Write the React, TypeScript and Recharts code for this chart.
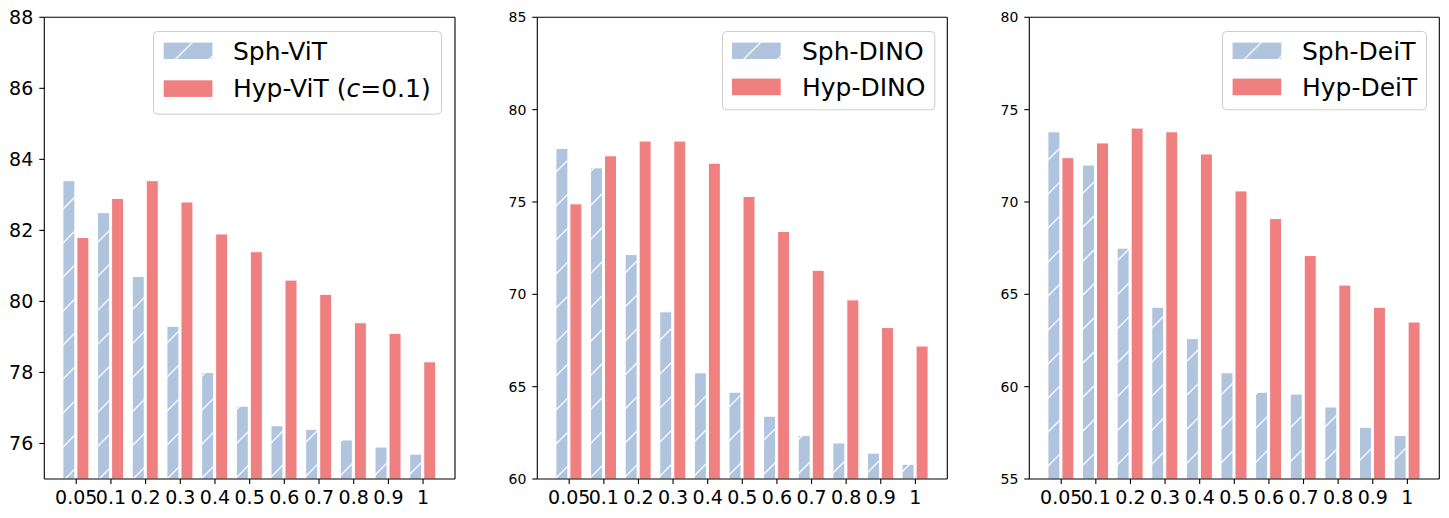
import React from 'react';
import { BarChart, Bar, XAxis, YAxis, Legend, ReferenceLine } from 'recharts';

const categories = ['0.05', '0.1', '0.2', '0.3', '0.4', '0.5', '0.6', '0.7', '0.8', '0.9', '1'];

const sphViT = [83.4, 82.5, 80.7, 79.3, 78.0, 77.05, 76.5, 76.4, 76.1, 75.9, 75.7];
const hypViT = [81.8, 82.9, 83.4, 82.8, 81.9, 81.4, 80.6, 80.2, 79.4, 79.1, 78.3];

const sphDINO = [77.9, 76.85, 72.15, 69.05, 65.75, 64.7, 63.4, 62.35, 61.95, 61.4, 60.8];
const hypDINO = [74.9, 77.5, 78.3, 78.3, 77.1, 75.3, 73.4, 71.3, 69.7, 68.2, 67.2];

const sphDeiT = [73.8, 72.0, 67.5, 64.3, 62.6, 60.75, 59.7, 59.6, 58.9, 57.8, 57.35];
const hypDeiT = [72.4, 73.2, 74.0, 73.8, 72.6, 70.6, 69.1, 67.1, 65.5, 64.3, 63.5];

const ticksViT = [76, 78, 80, 82, 84, 86, 88];
const ticksDINO = [60, 65, 70, 75, 80, 85];
const ticksDeiT = [55, 60, 65, 70, 75, 80];

const SPH = '#B0C4DE';
const HYP = '#F08080';
const FONT = '"DejaVu Sans", sans-serif';

type PanelProps = {
  id: string;
  left: number;
  width: number;
  yAxisWidth: number;
  rightMargin: number;
  sph: number[];
  hyp: number[];
  domain: [number, number];
  ticks: number[];
  yFont: number;
  sphLabel: string;
  hypLabel: React.ReactNode;
  legendLeft: number;
  legendWidth: number;
  legendHeight: number;
  patchX: number;
  row2Y: number;
  row2Base: number;
};

const HatchDefs = ({ id }: { id: string }) => (
  <defs>
    <pattern id={id} patternUnits="userSpaceOnUse" width={34} height={34}>
      <rect x={0} y={0} width={34} height={34} fill={SPH} />
      <path
        d="M-8.5,8.5 L8.5,-8.5 M0,34 L34,0 M25.5,42.5 L42.5,25.5"
        stroke="#ffffff"
        strokeWidth={1.3}
        fill="none"
      />
    </pattern>
  </defs>
);

const LegendBox = (p: PanelProps) => {
  const pid = p.id + '-leg';
  return (
    <svg width={p.legendWidth} height={p.legendHeight} style={{ display: 'block', overflow: 'visible' }}>
      <defs>
        <pattern id={pid} patternUnits="userSpaceOnUse" width={34} height={34} x={p.patchX + 6} y={0}>
          <rect x={0} y={0} width={34} height={34} fill={SPH} />
          <path
            d="M-8.5,8.5 L8.5,-8.5 M0,34 L34,0 M25.5,42.5 L42.5,25.5"
            stroke="#ffffff"
            strokeWidth={1.3}
            fill="none"
          />
        </pattern>
      </defs>
      <rect
        x={0.5}
        y={0.5}
        width={p.legendWidth - 1}
        height={p.legendHeight - 1}
        rx={4}
        ry={4}
        fill="rgba(255,255,255,0.8)"
        stroke="#cccccc"
        strokeWidth={1}
      />
      <rect x={p.patchX} y={11.6} width={48.7} height={16.4} fill={`url(#${pid})`} />
      <text x={80} y={28.8} fontSize={25} fontFamily={FONT} fill="#000">
        {p.sphLabel}
      </text>
      <rect x={p.patchX} y={p.row2Y} width={48.7} height={16.6} fill={HYP} />
      <text x={80} y={p.row2Base} fontSize={25} fontFamily={FONT} fill="#000">
        {p.hypLabel}
      </text>
    </svg>
  );
};

const Panel = (p: PanelProps) => {
  const data = categories.map((c, i) => ({ x: c, sph: p.sph[i], hyp: p.hyp[i] }));
  const hatchId = p.id + '-hatch';
  return (
    <div style={{ position: 'absolute', left: p.left, top: 0 }}>
      <BarChart
        width={p.width}
        height={518}
        data={data}
        margin={{ top: 17.3, right: p.rightMargin - 1, bottom: 0, left: 0 }}
        barSize={12}
        barGap={2}
      >
        <HatchDefs id={hatchId} />
        <XAxis
          dataKey="x"
          interval={0}
          height={39}
          padding={{ left: 14.6, right: 14.6 }}
          tick={{ fontSize: 19, fill: '#000', fontFamily: FONT }}
          tickSize={5}
          tickMargin={7}
          axisLine={{ stroke: '#000', strokeWidth: 1.1 }}
          tickLine={{ stroke: '#000', strokeWidth: 1.1 }}
        />
        <YAxis
          yAxisId="left"
          width={p.yAxisWidth}
          domain={p.domain}
          ticks={p.ticks}
          type="number"
          allowDataOverflow
          tick={{ fontSize: p.yFont, fill: '#000', fontFamily: FONT }}
          tickSize={5}
          tickMargin={6}
          axisLine={{ stroke: '#000', strokeWidth: 1.1 }}
          tickLine={{ stroke: '#000', strokeWidth: 1.1 }}
        />
        <YAxis
          yAxisId="right"
          orientation="right"
          width={1}
          domain={p.domain}
          type="number"
          allowDataOverflow
          tick={false}
          tickLine={false}
          axisLine={{ stroke: '#000', strokeWidth: 1.1 }}
        />
        <ReferenceLine
          yAxisId="left"
          y={p.domain[1]}
          stroke="#000"
          strokeWidth={1.1}
          ifOverflow="extendDomain"
        />
        <Legend
          layout="vertical"
          align="center"
          verticalAlign="middle"
          wrapperStyle={{
            position: 'absolute',
            left: p.legendLeft,
            top: 30.7,
            width: p.legendWidth,
            height: p.legendHeight,
            margin: 0,
            padding: 0,
          }}
          content={() => <LegendBox {...p} />}
        />
        <Bar
          yAxisId="left"
          dataKey="sph"
          fill={`url(#${hatchId})`}
          stroke="#ffffff"
          strokeWidth={1}
          isAnimationActive={false}
        />
        <Bar
          yAxisId="right"
          dataKey="hyp"
          fill={HYP}
          stroke="#ffffff"
          strokeWidth={1}
          isAnimationActive={false}
        />
      </BarChart>
    </div>
  );
};

export default function App() {
  return (
    <div
      style={{
        position: 'absolute',
        left: 0,
        top: 0,
        width: 1449,
        height: 518,
        background: '#ffffff',
        fontFamily: FONT,
        overflow: 'hidden',
      }}
    >
      <Panel
        id="vit"
        left={0}
        width={480}
        yAxisWidth={44.3}
        rightMargin={25}
        sph={sphViT}
        hyp={hypViT}
        domain={[75, 88]}
        ticks={ticksViT}
        yFont={19}
        sphLabel="Sph-ViT"
        hypLabel={
          <>
            Hyp-ViT (<tspan fontStyle="italic">c</tspan>=0.1)
          </>
        }
        legendLeft={153.3}
        legendWidth={289}
        legendHeight={83.6}
        patchX={10.7}
        row2Y={49.3}
        row2Base={66}
      />
      <Panel
        id="dino"
        left={490}
        width={480}
        yAxisWidth={47.3}
        rightMargin={22.7}
        sph={sphDINO}
        hyp={hypDINO}
        domain={[60, 85]}
        ticks={ticksDINO}
        yFont={14}
        sphLabel="Sph-DINO"
        hypLabel="Hyp-DINO"
        legendLeft={231.7}
        legendWidth={213.3}
        legendHeight={79.3}
        patchX={10}
        row2Y={47.6}
        row2Base={65.3}
      />
      <Panel
        id="deit"
        left={970}
        width={479}
        yAxisWidth={59.3}
        rightMargin={9.7}
        sph={sphDeiT}
        hyp={hypDeiT}
        domain={[55, 80]}
        ticks={ticksDeiT}
        yFont={14}
        sphLabel="Sph-DeiT"
        hypLabel="Hyp-DeiT"
        legendLeft={251.7}
        legendWidth={205}
        legendHeight={79.3}
        patchX={10.6}
        row2Y={47.6}
        row2Base={65.3}
      />
    </div>
  );
}
